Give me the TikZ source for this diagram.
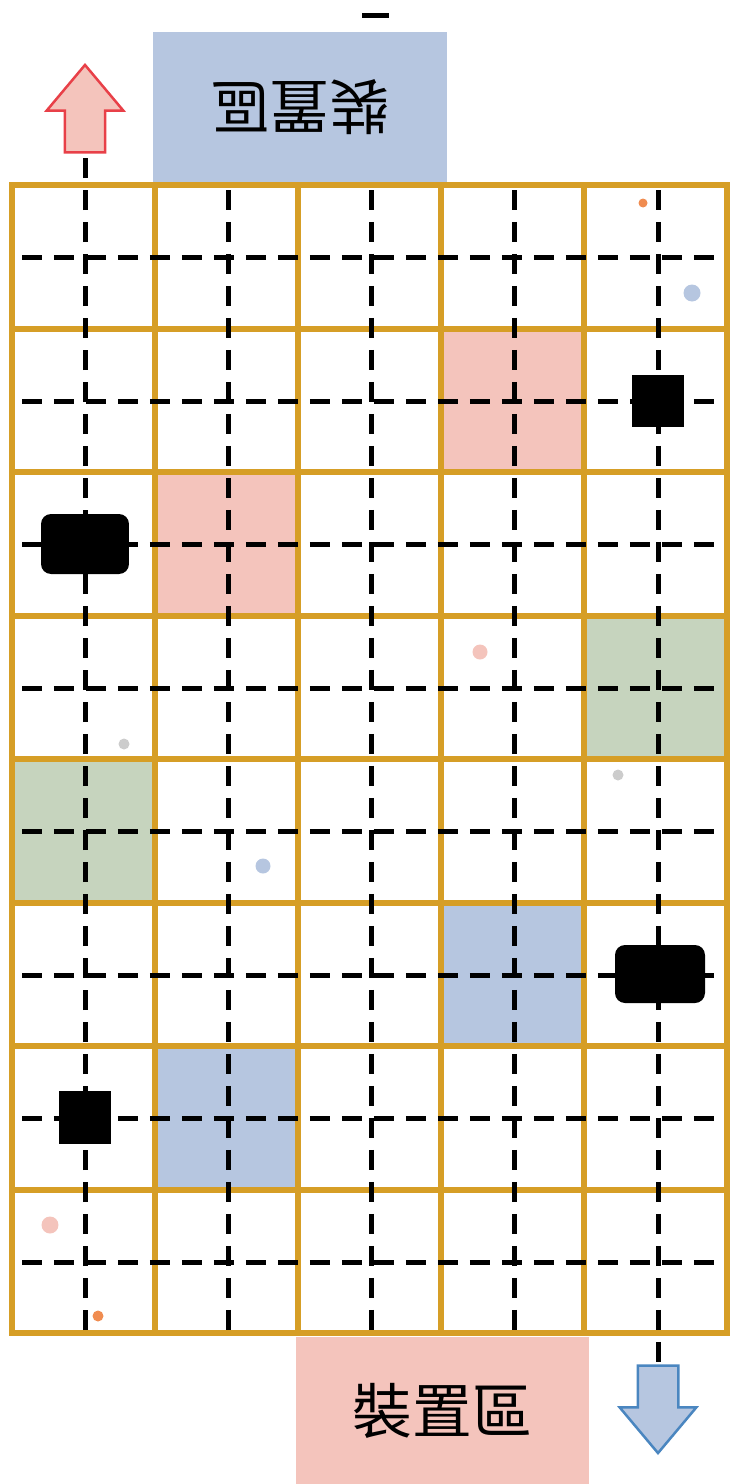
\documentclass[tikz,border=0pt]{standalone}
\usepackage{fontspec}
\newfontfamily\cjk{Noto Sans CJK TC}
\usetikzlibrary{shapes.arrows}

\definecolor{gridgold}{RGB}{214,158,38}
\definecolor{zonepink}{RGB}{244,196,188}
\definecolor{zoneblue}{RGB}{182,198,224}
\definecolor{zonegreen}{RGB}{198,212,190}
\definecolor{arrowred}{RGB}{232,64,72}
\definecolor{arrowblue}{RGB}{74,134,192}
\definecolor{speckorange}{RGB}{240,140,80}
\definecolor{speckgray}{RGB}{204,204,204}

\begin{document}
\begin{tikzpicture}[x=0.02cm, y=-0.02cm]

    \useasboundingbox (0,0) rectangle (731,1484);

    \tikzset{
        gridline/.style={draw=gridgold, line width=0.12cm, line cap=rect},
        pathline/.style={draw=black, line width=0.1cm,
                         dash pattern=on 0.4cm off 0.24cm},
        zonebox/.style={rectangle, inner sep=0pt,
                        font=\cjk\fontsize{34}{34}\selectfont},
        robot/.style={rectangle, fill=black, inner sep=0pt},
        flowarrow/.style={single arrow, line width=0.05cm, inner sep=0pt,
                          minimum height=1.75cm,
                          single arrow head extend=0.36cm,
                          single arrow tip angle=80},
        speck/.style={circle, inner sep=0pt}
    }

    % Zones above and below the grid
    \node[zonebox, fill=zoneblue,
          minimum width=5.88cm, minimum height=3.02cm,
          rotate=180] (Top_zone) at (300,107.5) {裝置區};
    \node[zonebox, fill=zonepink,
          minimum width=5.86cm, minimum height=2.94cm] (Bottom_zone) at (442.5,1410.5) {裝置區};
    \fill (362,13) rectangle (389,18);

    % Coloured cells
    \foreach \c/\r/\col in {3/1/zonepink, 1/2/zonepink, 4/3/zonegreen,
                            0/4/zonegreen, 3/5/zoneblue, 1/6/zoneblue}
        \fill[\col] (12+143*\c,185+143.5*\r) rectangle +(143,143.5);

    % Small specks
    \node[speck, fill=speckorange, minimum size=0.18cm] (Speck_a) at (643,203) {};
    \node[speck, fill=zoneblue, minimum size=0.34cm] (Speck_b) at (692,293) {};
    \node[speck, fill=zonepink, minimum size=0.3cm] (Speck_c) at (480,652) {};
    \node[speck, fill=speckgray, minimum size=0.22cm] (Speck_d) at (124,744) {};
    \node[speck, fill=speckgray, minimum size=0.22cm] (Speck_e) at (618,775) {};
    \node[speck, fill=zoneblue, minimum size=0.3cm] (Speck_f) at (263,866) {};
    \node[speck, fill=zonepink, minimum size=0.34cm] (Speck_g) at (50,1225) {};
    \node[speck, fill=speckorange, minimum size=0.22cm] (Speck_h) at (98,1316) {};

    % Grid
    \foreach \i in {0,...,5}
        \draw[gridline] (12+143*\i,185) -- (12+143*\i,1333);
    \foreach \j in {0,...,8}
        \draw[gridline] (12,185+143.5*\j) -- (727,185+143.5*\j);

    % Entry and exit arrows
    \node[flowarrow, draw=arrowred, fill=zonepink,
          rotate=90, anchor=tip] (Up_arrow) at (85,63) {\rule{0pt}{0.76cm}};
    \node[flowarrow, draw=arrowblue, fill=zoneblue,
          rotate=-90, anchor=tip] (Down_arrow) at (658,1455) {\rule{0pt}{0.76cm}};

    % Travel paths
    \foreach \j in {0,...,7}
        \draw[pathline] (22,257.5+143.5*\j) -- (720,257.5+143.5*\j);
    \foreach \i in {1,2,3}
        \draw[pathline] (85+143*\i,190) -- (85+143*\i,1330);
    \coordinate (Left_end) at (85,1330);
    \coordinate (Right_end) at (658,190);
    \draw[pathline] (Left_end) -- (Up_arrow.tail);
    \draw[pathline] (Right_end) -- (Down_arrow.tail);

    % Vehicles
    \node[robot, minimum size=1.04cm] (Robot_a) at (658,401) {};
    \node[robot, rounded corners=0.2cm,
          minimum width=1.76cm, minimum height=1.2cm] (Robot_b) at (85,544) {};
    \node[robot, rounded corners=0.2cm,
          minimum width=1.8cm, minimum height=1.16cm] (Robot_c) at (660,974) {};
    \node[robot, minimum size=1.06cm] (Robot_d) at (85,1117) {};

\end{tikzpicture}
\end{document}
